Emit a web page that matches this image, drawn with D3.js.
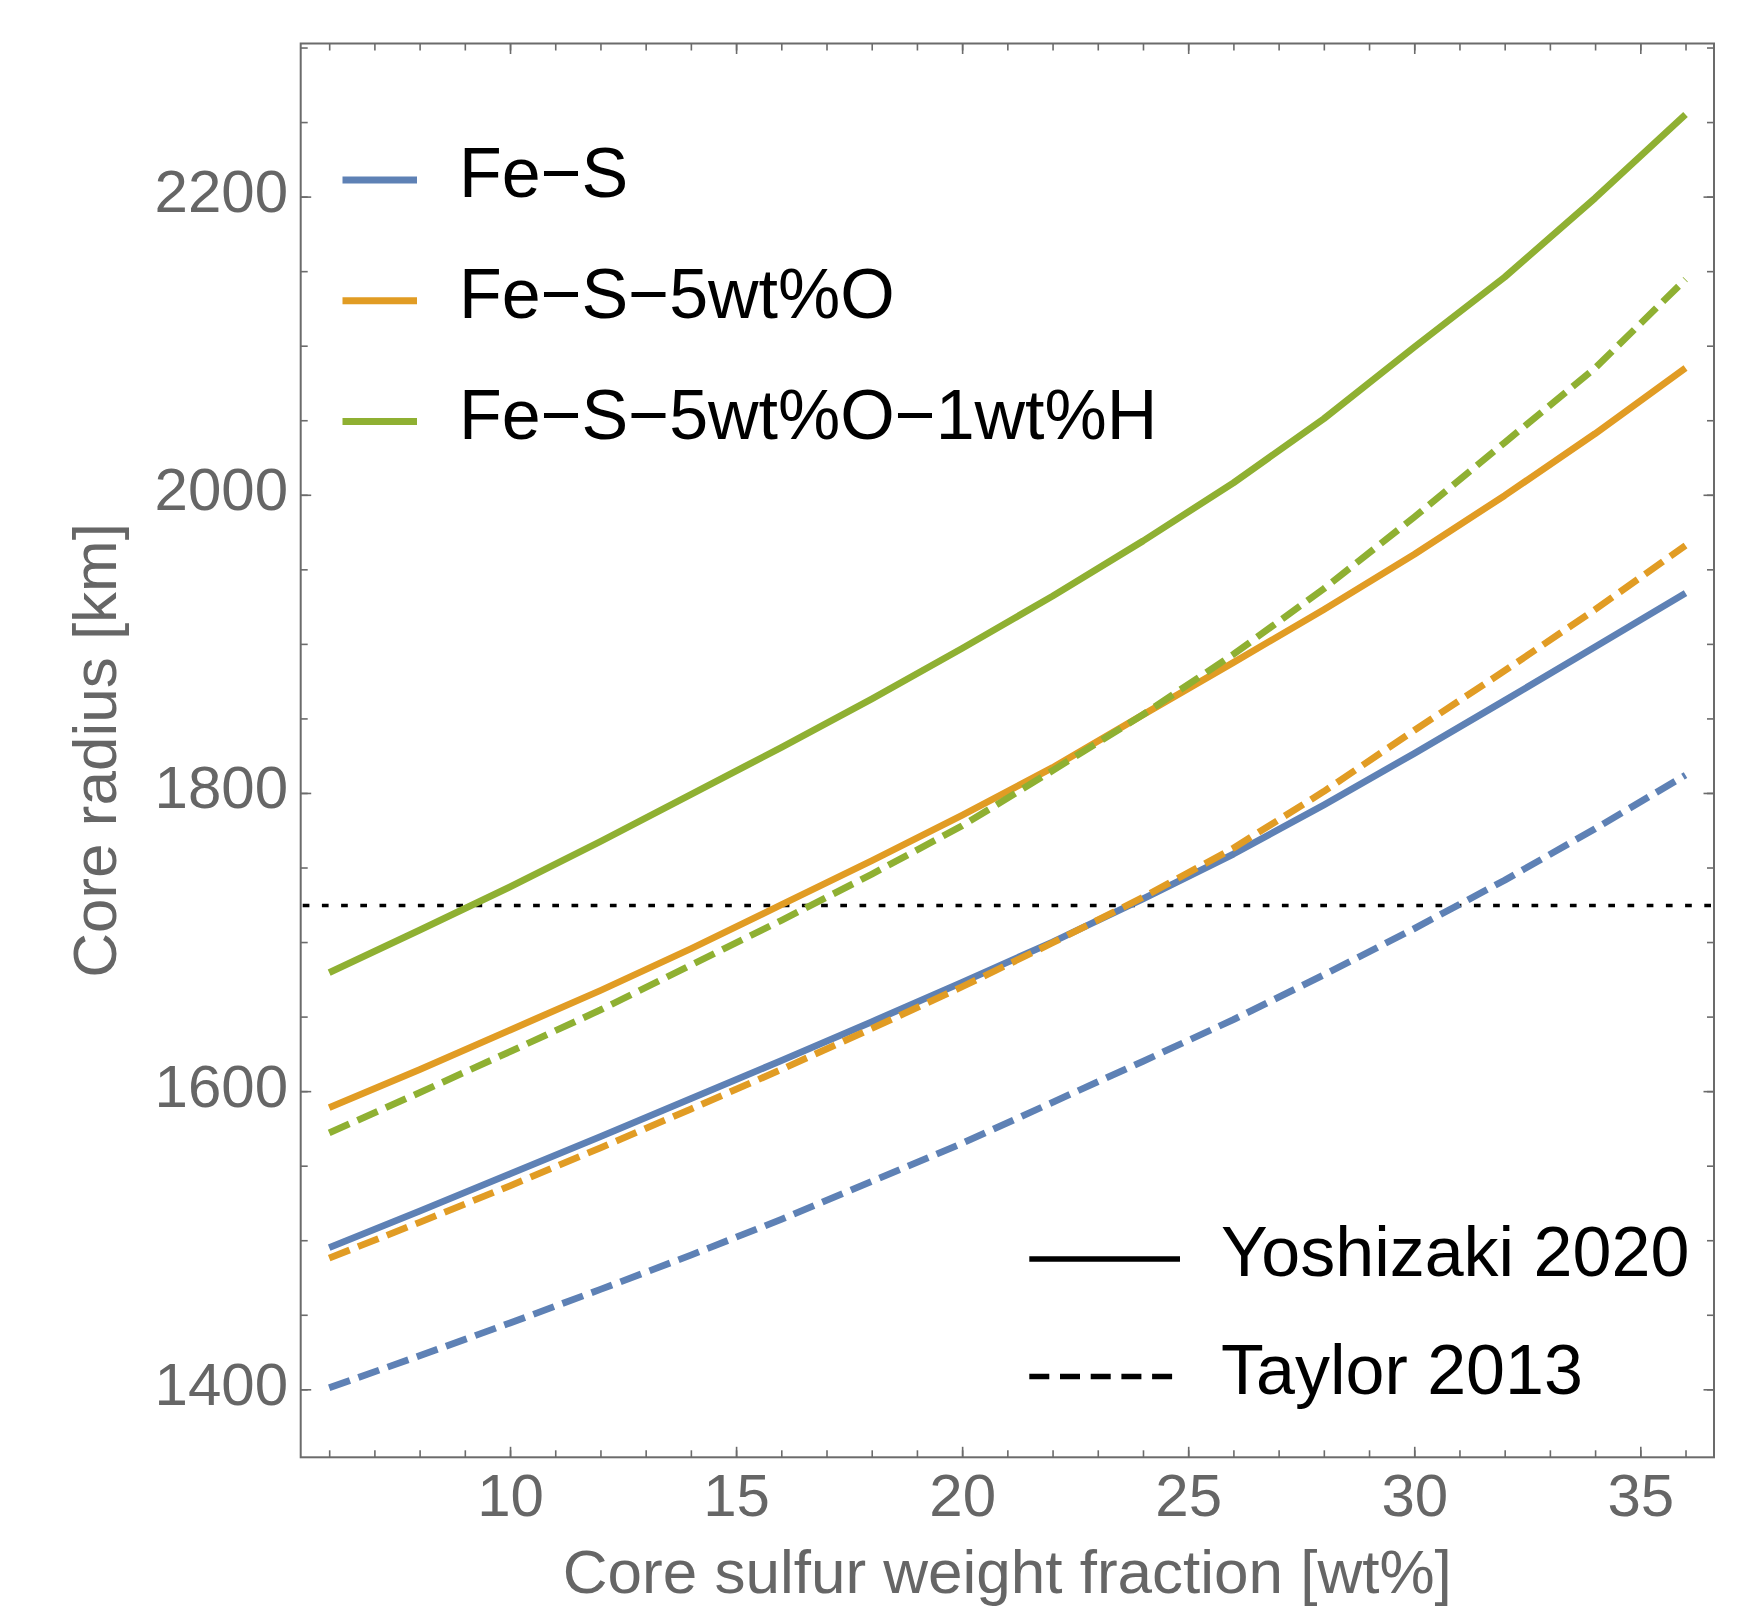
<!DOCTYPE html>
<html>
<head>
<meta charset="utf-8">
<script src="https://cdn.jsdelivr.net/npm/d3@7"></script>
<style>
  body { margin: 0; background: #fff; }
  svg text { font-family: "Liberation Sans", Arial, Helvetica, sans-serif; }
</style>
</head>
<body>
<div id="chart"></div>
<script>
// core sulfur weight fraction [wt%]
const sulfurWt = [6, 8, 10, 12, 14, 16, 18, 20, 22, 24, 26, 28, 30, 32, 34, 36];

// core radius [km], Yoshizaki 2020 (solid)
const feS_yoshizaki = [1495, 1519.5, 1544.5, 1569.5, 1595, 1620.5, 1646.5, 1673, 1700, 1729, 1759, 1792, 1826.5, 1862, 1898, 1934];
const feSO_yoshizaki = [1589, 1614.5, 1641, 1667.5, 1695.5, 1725, 1754.5, 1785, 1817, 1852.5, 1887.5, 1923, 1960, 1999.5, 2041, 2085];
const feSOH_yoshizaki = [1679.5, 1708, 1737, 1767.5, 1799, 1830.5, 1863, 1897, 1932, 1969, 2008, 2051, 2099, 2146, 2199, 2255];

// core radius [km], Taylor 2013 (dashed)
const feS_taylor = [1401, 1422.5, 1444.5, 1467, 1490, 1514, 1539.5, 1565, 1592.5, 1620, 1648, 1678, 1709, 1741.5, 1776, 1812];
const feSO_taylor = [1488, 1512, 1536.5, 1562, 1588, 1614.5, 1642, 1670, 1699.5, 1730, 1763, 1801, 1842, 1882, 1923, 1966];
const feSOH_taylor = [1572, 1599, 1626.5, 1654.5, 1684.5, 1714.5, 1745.5, 1778, 1815, 1852.5, 1893, 1937, 1985, 2035, 2085, 2144.5];

// horizontal reference radius
const refRadius = [1724.5];

const compositions = ["Fe\u2212S", "Fe\u2212S\u22125wt%O", "Fe\u2212S\u22125wt%O\u22121wt%H"];
const compColors = ["#5e81b5", "#e19c24", "#8fb032"];
const sources = ["Yoshizaki 2020", "Taylor 2013"];

const xMajor = [10, 15, 20, 25, 30, 35];
const xMinor = d3.range(6, 37, 1);
const yMajor = [1400, 1600, 1800, 2000, 2200];
const yMinor = d3.range(1400, 2301, 50);

const series = [
  { values: feS_yoshizaki, color: compColors[0], dashed: false },
  { values: feSO_yoshizaki, color: compColors[1], dashed: false },
  { values: feSOH_yoshizaki, color: compColors[2], dashed: false },
  { values: feS_taylor, color: compColors[0], dashed: true },
  { values: feSO_taylor, color: compColors[1], dashed: true },
  { values: feSOH_taylor, color: compColors[2], dashed: true }
];

const width = 1751, height = 1609;
const frame = { left: 300.7, right: 1714, top: 43.5, bottom: 1457.3 };
const axisColor = "#6b6b6b";
const labelColor = "#666666";
const dash = "22,9";

const svg = d3.select("#chart").append("svg")
    .attr("width", width)
    .attr("height", height);

const x = d3.scaleLinear().domain([5.37, 36.63]).range([frame.left, frame.right]);
const y = d3.scaleLinear().domain([1354.4, 2302.7]).range([frame.bottom, frame.top]);

function addAxis(axis, tx, ty, values, len, labels) {
    const g = svg.append("g")
        .attr("transform", `translate(${tx},${ty})`)
        .call(axis.tickValues(values).tickSize(-len).tickPadding(12.7)
            .tickFormat(labels ? d3.format("d") : ""));
    g.select(".domain").remove();
    g.selectAll(".tick line").attr("stroke", axisColor).attr("stroke-width", 1.6);
    g.attr("font-family", null).attr("font-size", 60);
    g.selectAll("text").attr("fill", labelColor);
    return g;
}

// ticks on all four sides, pointing inward
addAxis(d3.axisBottom(x), 0, frame.bottom, xMinor, 7, false);
addAxis(d3.axisTop(x), 0, frame.top, xMinor, 7, false);
addAxis(d3.axisTop(x), 0, frame.top, xMajor, 10.5, false);
const xAxis = addAxis(d3.axisBottom(x), 0, frame.bottom, xMajor, 10.5, true);
xAxis.selectAll("text").attr("y", 59).attr("dy", 0);

addAxis(d3.axisLeft(y), frame.left, 0, yMinor, 7, false);
addAxis(d3.axisRight(y), frame.right, 0, yMinor, 7, false);
addAxis(d3.axisRight(y), frame.right, 0, yMajor, 10.5, false);
const yAxis = addAxis(d3.axisLeft(y), frame.left, 0, yMajor, 10.5, true);
yAxis.selectAll("text").attr("dy", "0.25em");

svg.append("rect")
    .attr("x", frame.left)
    .attr("y", frame.top)
    .attr("width", frame.right - frame.left)
    .attr("height", frame.bottom - frame.top)
    .attr("fill", "none")
    .attr("stroke", axisColor)
    .attr("stroke-width", 2);

// reference line
svg.selectAll(".ref")
    .data(refRadius)
    .enter()
    .append("line")
    .attr("class", "ref")
    .attr("x1", frame.left + 2)
    .attr("x2", frame.right - 2)
    .attr("y1", d => y(d))
    .attr("y2", d => y(d))
    .attr("stroke", "#000")
    .attr("stroke-width", 3.6)
    .attr("stroke-dasharray", "6.7,12.5");

const line = d3.line()
    .x((d, i) => x(sulfurWt[i]))
    .y(d => y(d));

svg.selectAll(".series")
    .data(series)
    .enter()
    .append("path")
    .attr("class", "series")
    .attr("d", d => line(d.values))
    .attr("fill", "none")
    .attr("stroke", d => d.color)
    .attr("stroke-width", 6.8)
    .attr("stroke-linejoin", "round")
    .attr("stroke-dasharray", d => d.dashed ? dash : null);

// axis titles
svg.append("text")
    .attr("x", (frame.left + frame.right) / 2)
    .attr("y", 1593)
    .attr("text-anchor", "middle")
    .attr("font-size", 62)
    .attr("fill", labelColor)
    .text("Core sulfur weight fraction [wt%]");

svg.append("text")
    .attr("transform", `translate(116,${(frame.top + frame.bottom) / 2}) rotate(-90)`)
    .attr("text-anchor", "middle")
    .attr("font-size", 62)
    .attr("fill", labelColor)
    .text("Core radius [km]");

// composition legend
const compLegend = svg.append("g");
compositions.forEach((name, i) => {
    const by = 197 + i * 120.8;
    compLegend.append("line")
        .attr("x1", 342.5).attr("x2", 417)
        .attr("y1", by - 17).attr("y2", by - 17)
        .attr("stroke", compColors[i])
        .attr("stroke-width", 7);
    compLegend.append("text")
        .attr("x", 459).attr("y", by)
        .attr("font-size", 70)
        .attr("fill", "#000")
        .text(name);
});

// source legend
const srcLegend = svg.append("g");
sources.forEach((name, i) => {
    const by = 1276 + i * 117.5;
    srcLegend.append("line")
        .attr("x1", 1029.3).attr("x2", i === 0 ? 1180 : 1178)
        .attr("y1", by - 17).attr("y2", by - 17)
        .attr("stroke", "#000")
        .attr("stroke-width", 5.5)
        .attr("stroke-dasharray", i === 1 ? "20,10.7" : null);
    srcLegend.append("text")
        .attr("x", 1221).attr("y", by)
        .attr("font-size", 70)
        .attr("fill", "#000")
        .text(name);
});
</script>
</body>
</html>
